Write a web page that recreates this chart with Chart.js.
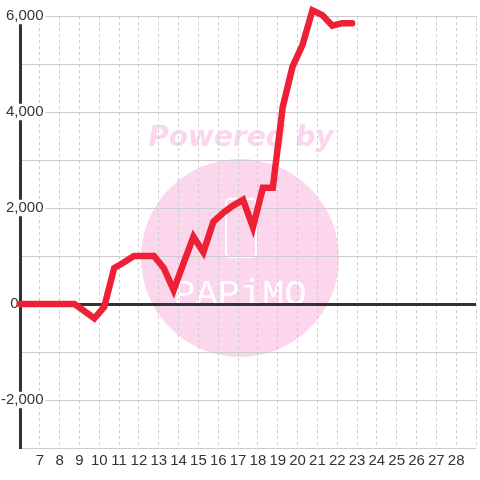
<!DOCTYPE html>
<html><head><meta charset="utf-8">
<script src="https://cdn.jsdelivr.net/npm/chart.js"></script>
<style>html,body{margin:0;padding:0;background:#fff;}canvas{display:block;}</style>
</head><body>
<canvas id="c" width="480" height="480"></canvas>
<script>
// ---- data ----
const xValues = [6, 8.75, 9.25, 9.75, 10.25, 10.75, 11.25, 11.75, 12.25, 12.75, 13.25, 13.75, 14.25, 14.75, 15.25, 15.75, 16.25, 16.75, 17.25, 17.75, 18.25, 18.75, 19.25, 19.75, 20.25, 20.75, 21.25, 21.75, 22.25, 22.75];
const yValues = [0, 0, -150, -300, -60, 750, 870, 1000, 1000, 1000, 750, 290, 850, 1400, 1080, 1710, 1900, 2050, 2170, 1600, 2420, 2420, 4100, 4950, 5400, 6120, 6020, 5800, 5850, 5850];
const xTickLabels = ['7','8','9','10','11','12','13','14','15','16','17','18','19','20','21','22','23','24','25','26','27','28'];
const xFirstLabel = 7;
const yLabelValues = [6000, 4000, 2000, 0, -2000];
const yTickLabels = ['6,000', '4,000', '2,000', '0', '-2,000'];

const points = xValues.map((x, i) => ({x: x, y: yValues[i]}));

const watermark = {
  id: 'watermark',
  beforeDraw(chart) {
    const ctx = chart.ctx;
    ctx.save();
    ctx.fillStyle = '#fcd6ec';
    ctx.beginPath();
    ctx.arc(240, 258, 99, 0, Math.PI * 2);
    ctx.fill();
    ctx.font = 'italic bold 28px "DejaVu Sans"';
    ctx.textAlign = 'center';
    ctx.textBaseline = 'alphabetic';
    ctx.fillText('Powered by', 241, 146);
    ctx.strokeStyle = '#ffffff';
    ctx.lineWidth = 2;
    ctx.beginPath();
    ctx.roundRect(226, 199, 30, 58, 4);
    ctx.stroke();
    ctx.fillStyle = '#ffffff';
    ctx.font = '37px "Liberation Mono"';
    ctx.fillText('PAPiMO', 240, 305);
    ctx.restore();
  }
};

new Chart(document.getElementById('c'), {
  type: 'line',
  data: {
    datasets: [{
      data: points,
      borderColor: 'rgb(238,32,54)',
      borderWidth: 6.5,
      borderCapStyle: 'round',
      pointRadius: 0,
      tension: 0,
      fill: false,
      clip: false
    }]
  },
  plugins: [watermark],
  options: {
    responsive: false,
    animation: false,
    devicePixelRatio: 1,
    layout: {padding: {top: 16, left: 0, right: 0, bottom: 0}},
    plugins: {legend: {display: false}, tooltip: {enabled: false}},
    scales: {
      x: {
        type: 'linear',
        min: 6, max: 29,
        afterFit: s => { s.height = 32; },
        grid: {color: '#cccccc', lineWidth: 1, drawTicks: false},
        border: {display: false, dash: [3, 3]},
        ticks: {
          stepSize: 1, autoSkip: false, maxRotation: 0, padding: 4,
          color: '#333333',
          font: {family: '"Liberation Sans", Arial, sans-serif', size: 15},
          callback: v => {
            const i = v - xFirstLabel;
            return (i >= 0 && i < xTickLabels.length) ? xTickLabels[i] : '';
          }
        }
      },
      y: {
        min: -3000, max: 6000,
        afterFit: s => { s.width = 20; },
        grid: {
          drawTicks: false,
          color: c => c.tick && c.tick.value === 0 ? '#333333' : '#cccccc',
          lineWidth: c => c.tick && c.tick.value === 0 ? 3 : 1
        },
        border: {display: true, color: '#333333', width: 3},
        ticks: {
          stepSize: 1000, padding: -19,
          mirror: true,
          color: '#333333',
          crossAlign: 'far',
          font: {family: '"Liberation Sans", Arial, sans-serif', size: 15, lineHeight: 1.1},
          showLabelBackdrop: true,
          backdropPadding: {top: 0, bottom: 0, left: 2, right: 2},
          backdropColor: c => {
            const v = c.tick ? c.tick.value : null;
            return (v !== 0 && yLabelValues.includes(v)) ? '#ffffff' : 'rgba(0,0,0,0)';
          },
          callback: v => {
            const i = yLabelValues.indexOf(v);
            if (i < 0) return '';
            return v === 0 ? yTickLabels[i] + '      ' : yTickLabels[i];
          }
        }
      }
    }
  }
});
</script>
</body></html>
